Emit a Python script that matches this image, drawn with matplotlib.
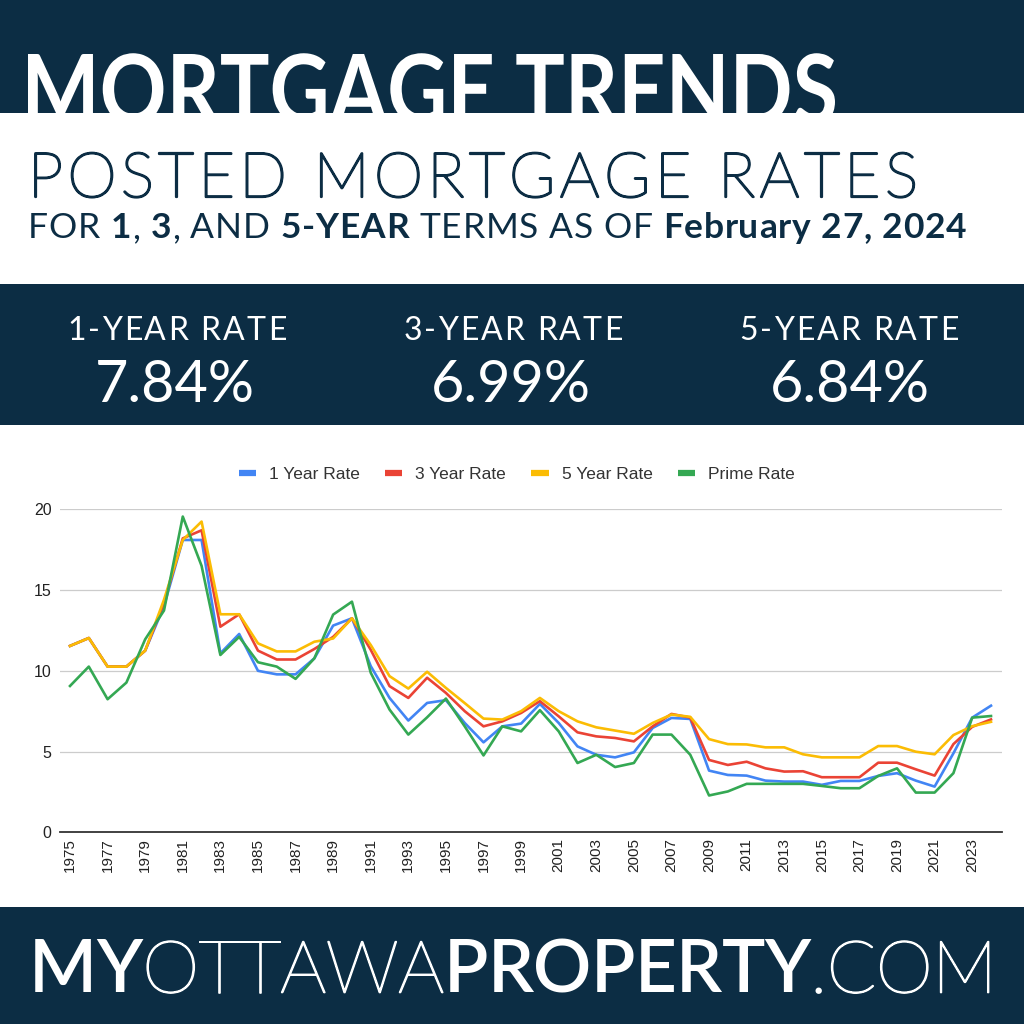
import matplotlib
matplotlib.use('Agg')
import matplotlib.pyplot as plt
import matplotlib.patheffects as pe
from matplotlib.patches import Rectangle, PathPatch
from matplotlib.textpath import TextPath
from matplotlib.font_manager import FontProperties
from matplotlib.transforms import Affine2D

# ============================================
# DATA
# ============================================

years = list(range(1975, 2025))

one_year = [11.54, 12.03, 10.26, 10.26, 11.25, 14.0, 18.1, 18.1, 11.08, 12.28,
            10.0, 9.78, 9.78, 10.77, 12.8, 13.25, 10.29, 8.32, 6.92, 8.01,
            8.18, 6.77, 5.57, 6.56, 6.73, 7.95, 6.77, 5.32, 4.8, 4.64,
            4.95, 6.46, 7.08, 7.02, 3.82, 3.55, 3.51, 3.2, 3.14, 3.14,
            2.94, 3.18, 3.18, 3.49, 3.66, 3.2, 2.83, 4.89, 7.1, 7.84]

three_year = [11.54, 12.03, 10.26, 10.26, 11.25, 14.2, 18.2, 18.7, 12.73, 13.5,
              11.25, 10.7, 10.7, 11.35, 12.1, 13.25, 11.3, 9.05, 8.32, 9.57,
              8.63, 7.5, 6.56, 6.87, 7.39, 8.12, 7.18, 6.19, 5.94, 5.84,
              5.63, 6.56, 7.33, 7.1, 4.48, 4.17, 4.37, 3.96, 3.76, 3.78,
              3.41, 3.41, 3.41, 4.31, 4.31, 3.9, 3.51, 5.46, 6.53, 6.99]

five_year = [11.54, 12.03, 10.26, 10.26, 11.25, 14.4, 18.1, 19.24, 13.5, 13.5,
             11.7, 11.2, 11.2, 11.8, 12.0, 13.25, 11.6, 9.67, 8.9, 9.94,
             8.94, 8.0, 7.04, 6.98, 7.5, 8.32, 7.5, 6.87, 6.5, 6.3,
             6.1, 6.77, 7.29, 7.15, 5.77, 5.46, 5.44, 5.26, 5.26, 4.83,
             4.64, 4.64, 4.64, 5.34, 5.34, 4.99, 4.83, 6.02, 6.57, 6.84]

prime = [9.06, 10.26, 8.24, 9.27, 11.95, 13.73, 19.55, 16.5, 10.98, 12.1,
         10.53, 10.26, 9.5, 10.77, 13.48, 14.28, 9.88, 7.6, 6.05, 7.12,
         8.28, 6.56, 4.76, 6.56, 6.25, 7.56, 6.25, 4.29, 4.8, 4.04,
         4.29, 6.05, 6.05, 4.8, 2.28, 2.53, 3.0, 3.0, 3.0, 3.0,
         2.87, 2.73, 2.73, 3.49, 3.96, 2.46, 2.46, 3.66, 7.1, 7.2]

series_names = ['1 Year Rate', '3 Year Rate', '5 Year Rate', 'Prime Rate']
series_colors = ['#4285F4', '#EA4335', '#FBBC04', '#34A853']

rate_labels = ['1-YEAR RATE', '3-YEAR RATE', '5-YEAR RATE']
rate_values = ['7.84%', '6.99%', '6.84%']

# ============================================
# FIGURE / BANDS
# ============================================

W, H = 1024, 1024
NAVY = '#0c2d44'

fig = plt.figure(figsize=(10.24, 10.24), dpi=100)
fig.patch.set_facecolor('white')

# overlay axes in pixel units (y measured from the bottom)
bg = fig.add_axes([0, 0, 1, 1])
bg.set_xlim(0, W)
bg.set_ylim(0, H)
bg.axis('off')
bg.set_zorder(0)


def band(y0, y1, color, z=0):
    bg.add_patch(Rectangle((0, H - y1), W, y1 - y0, color=color, lw=0, zorder=z))


band(0, 113, NAVY)
band(284, 425, NAVY)
band(907, 1024, NAVY)

# title drawn as a path so it fits the box of the reference
fp_title = FontProperties(family='Lato', weight='bold')
tp = TextPath((0, 0), 'MORTGAGE TRENDS', size=1, prop=fp_title)
cap = TextPath((0, 0), 'H', size=1, prop=fp_title).get_extents().y1
ext = tp.get_extents()
x0, x1, top, base = 28, 835, 54, 124
sx = (x1 - x0) / ext.width
sy = (base - top) / cap
tr = Affine2D().translate(-ext.x0, 0).scale(sx, sy).translate(x0, H - base)
bg.add_patch(PathPatch(tr.transform_path(tp), fc='white', lw=0, zorder=1))
band(113, 135, 'white', z=2)

renderer = fig.canvas.get_renderer()


def put_runs(x_px, y_px, runs, size, color, width=None, center=False, stroke=1.1):
    # draw text letter by letter; spread the letters to fill `width` if given
    # weight 'light+' = thin Lato face thickened with a stroke of the same colour
    chars = [(c, w) for s, w in runs for c in s]
    widths = []
    for c, w in chars:
        t = fig.text(0, 0, c, fontsize=size, fontweight=w.rstrip('+'), family='Lato')
        widths.append(t.get_window_extent(renderer=renderer).width)
        t.remove()
    natural = sum(widths)
    track = 0.0
    if width is not None:
        track = (width - natural) / (len(chars) - 1)
    total = natural + track * (len(chars) - 1)
    x = x_px - total / 2 if center else x_px
    for (c, w), cw in zip(chars, widths):
        efx = [pe.withStroke(linewidth=stroke, foreground=color)] if w.endswith('+') else None
        fig.text(x / W, 1 - y_px / H, c, fontsize=size, fontweight=w.rstrip('+'), color=color,
                 family='Lato', va='baseline', ha='left', path_effects=efx)
        x += cw + track
    return x


put_runs(28, 197, [('POSTED MORTGAGE RATES', 'light+')], 45, NAVY, width=918 - 28, stroke=1.6)

put_runs(28, 238, [('FOR ', 'normal'), ('1', 'bold'), (', ', 'normal'), ('3', 'bold'),
                   (', AND ', 'normal'), ('5-YEAR', 'bold'), (' TERMS AS OF ', 'normal'),
                   ('February 27, 2024', 'bold')], 25.5, NAVY, width=966 - 28)

for cx, cv, lab, val in zip([176.5, 513, 849], [175, 511, 850], rate_labels, rate_values):
    put_runs(cx, 340, [(lab, 'normal')], 23, 'white', width=219, center=True)
    fig.text(cv / W, 1 - 402 / H, val, fontsize=41.5, family='Lato', color='white',
             ha='center', va='baseline')

# footer
put_runs(29, 992.5, [('MY', 'semibold'), ('OTTAWA', 'light+'), ('PROPERTY', 'semibold'),
                     ('.COM', 'light+')], 52.3, 'white', width=997 - 29, stroke=1.2)

# ============================================
# CHART
# ============================================

ax = fig.add_axes([60 / W, 1 - 832.3 / H, (1001.7 - 60) / W, (832.3 - 509.3) / H])
ax.set_zorder(2)
ax.patch.set_alpha(0)

for vals, nome, cor in zip([one_year, three_year, five_year, prime], series_names, series_colors):
    ax.plot(years, vals, color=cor, linewidth=1.9, label=nome, clip_on=False)

ax.set_xlim(1975 - 10 / 18.79, 2024 + 10.7 / 18.79)
ax.set_ylim(0, 20)
ax.set_yticks([0, 5, 10, 15, 20])
ax.set_xticks(years[::2])
ax.set_xticklabels([str(y) for y in years[::2]], rotation=90, family='Liberation Sans',
                   fontsize=11, color='#222222')
for lbl in ax.get_yticklabels():
    lbl.set_family('Liberation Sans')
ax.tick_params(axis='y', length=0, pad=6, labelsize=11.5, labelcolor='#222222')
ax.tick_params(axis='x', length=0, pad=4)
ax.grid(axis='y', color='#cccccc', linewidth=0.9)
ax.set_axisbelow(True)
for side in ['top', 'right', 'left']:
    ax.spines[side].set_visible(False)
ax.spines['bottom'].set_color('#333333')
ax.spines['bottom'].set_linewidth(1.3)
ax.spines['bottom'].set_zorder(5)

leg = ax.legend(loc='center', bbox_to_anchor=(0.485, 1.108), ncol=4, frameon=False,
                handlelength=1.0, handletextpad=0.75, columnspacing=1.45,
                prop={'family': 'Liberation Sans', 'size': 12.5})
for h in leg.get_lines():
    h.set_linewidth(4.5)
    h.set_solid_capstyle('butt')
for t in leg.get_texts():
    t.set_color('#333333')

fig.savefig('out.png', dpi=100)
